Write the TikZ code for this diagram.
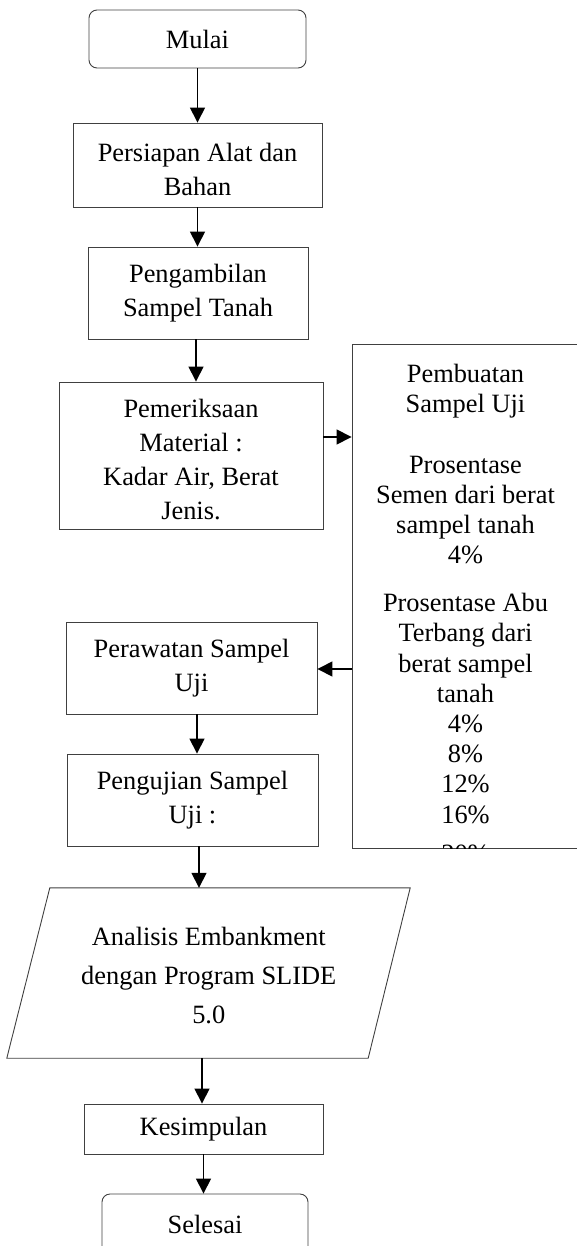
\documentclass[tikz,border=0pt]{standalone}
\usepackage{fontspec}
\setmainfont{Liberation Serif}
\usetikzlibrary{arrows.meta,calc}
\tikzset{
  box/.style={draw=black!75, line width=0.9pt, rectangle, inner sep=0pt, align=center,
    font=\fontsize{26.4}{34}\selectfont},
  term/.style={box, rounded corners=8pt},
  arr/.style={line width=1.5pt, -{Triangle[length=15pt,width=15pt]}},
}
\begin{document}
\begin{tikzpicture}[x=1pt,y=-1pt]
\useasboundingbox (0,0) rectangle (577,1246);
\node[term, minimum width=217pt, minimum height=58pt] (mulai) at (197.5,39) {Mulai};
\node[box, minimum width=249pt, minimum height=84pt] (siap) at (197.5,165) {\rule{0pt}{28pt}Persiapan Alat dan\\Bahan};
\node[box, minimum width=220pt, minimum height=92pt] (ambil) at (198,293) {Pengambilan\\Sampel Tanah};
\node[box, minimum width=264pt, minimum height=147pt] (periksa) at (191,455.5) {\rule{0pt}{27pt}Pemeriksaan\\Material :\\Kadar Air, Berat\\Jenis.};
\node[box, minimum width=228pt, minimum height=504pt] (buat) at (466,596) {};
\begin{scope}
  \clip (buat.south west) rectangle (buat.north east);
  \node[anchor=north, inner sep=0pt, align=center, font=\fontsize{26.4}{30.2}\selectfont] (buattext) at (465.5,364)
   {Pembuatan\\Sampel Uji\\[30.2pt]Prosentase\\Semen dari berat\\sampel tanah\\4\%\\[17.8pt]Prosentase Abu\\Terbang dari\\berat sampel\\tanah\\4\%\\8\%\\12\%\\16\%\\[9pt]20\%};
\end{scope}
\node[box, minimum width=251pt, minimum height=92pt] (rawat) at (191.5,668) {Perawatan Sampel\\Uji};
\node[box, minimum width=251pt, minimum height=92pt] (uji) at (192.5,800) {Pengujian Sampel\\Uji :};
\node[inner sep=0pt, align=center, minimum width=360pt, minimum height=170pt,
  font=\fontsize{26.4}{39}\selectfont] (ana) at (208.75,976) {Analisis Embankment\\dengan Program SLIDE\\5.0};
\draw[draw=black!75, line width=0.9pt] ([xshift=21.25pt,yshift=3pt]ana.north west) -- ([xshift=21.25pt,yshift=3pt]ana.north east)
  -- ([xshift=-20.75pt,yshift=3pt]ana.south east) -- ([xshift=-21.75pt,yshift=3pt]ana.south west) -- cycle;
\coordinate (anatop) at ([yshift=3pt]ana.north);
\coordinate (anabot) at ([yshift=3pt,xshift=-6.75pt]ana.south);
\node[box, minimum width=239pt, minimum height=50pt] (simpul) at (203.5,1129) {Kesimpulan};
\node[term, minimum width=206pt, minimum height=60pt] (selesai) at (205,1224) {Selesai};
% connectors
\draw[arr] (mulai.south) -- (mulai.south |- siap.north);
\draw[arr] (siap.south) -- (siap.south |- ambil.north);
\coordinate (a1) at ([xshift=-2pt]ambil.south);
\draw[arr] (a1) -- (a1 |- periksa.north);
\coordinate (p1) at ([yshift=18.5pt]periksa.east);
\draw[arr] (p1) -- (p1 -| buat.west);
\coordinate (p2) at ([yshift=-73pt]buat.west);
\draw[arr] (p2) -- (p2 -| rawat.east);
\coordinate (r1) at ([xshift=5.5pt]rawat.south);
\draw[arr] (r1) -- (r1 |- uji.north);
\coordinate (u1) at ([xshift=6.5pt]uji.south);
\draw[arr] (u1) -- (u1 |- anatop);
\draw[arr] (anabot) -- (anabot |- simpul.north);
\draw[arr] (simpul.south) -- (simpul.south |- selesai.north);
\end{tikzpicture}
\end{document}
